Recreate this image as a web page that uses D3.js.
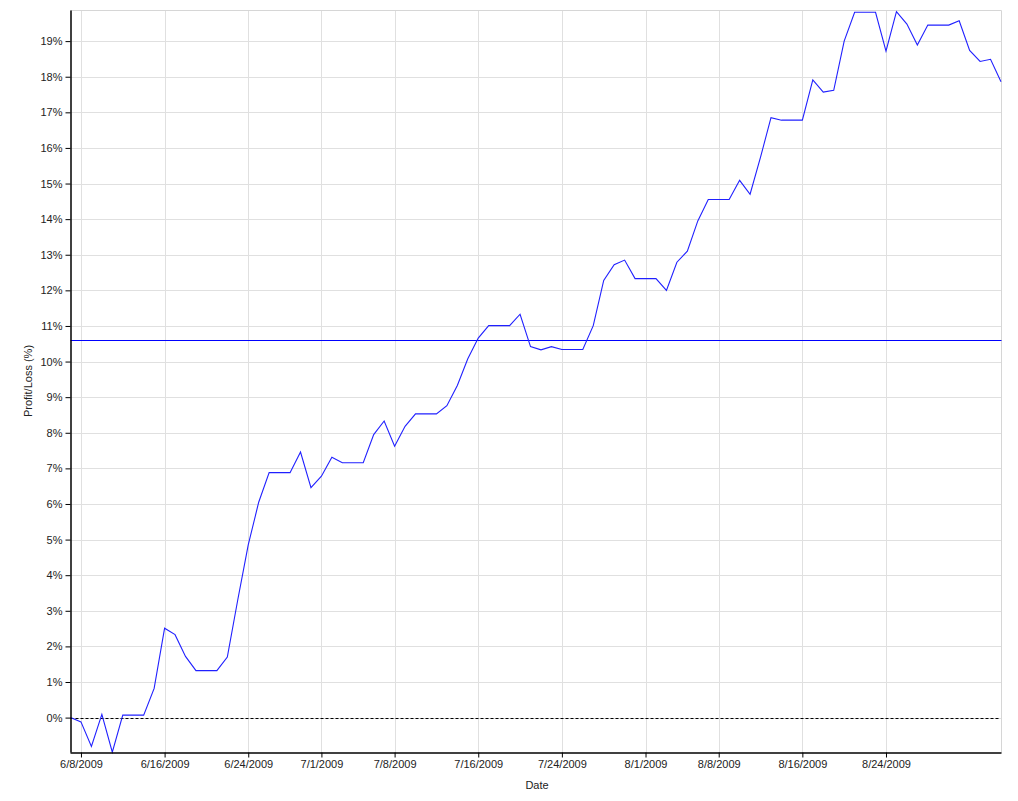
<!DOCTYPE html>
<html>
<head>
<meta charset="utf-8">
<script src="https://cdn.jsdelivr.net/npm/d3@7"></script>
<style>
  body { margin: 0; background: #fff; }
  text { font-family: "Liberation Sans", Arial, sans-serif; }
</style>
</head>
<body>
<svg id="chart" width="1018" height="801"></svg>
<script>
// daily profit/loss (%) from 6/7/2009 to 9/4/2009, one value per day
var startDate = Date.UTC(2009, 5, 7);
var pnl = [
  0.00, -0.12, -0.81, 0.09, -0.97, 0.07, 0.07, 0.07, 0.82, 2.51,
  2.33, 1.72, 1.32, 1.32, 1.32, 1.70, 3.31, 4.85, 6.05, 6.88,
  6.88, 6.88, 7.46, 6.46, 6.78, 7.31, 7.16, 7.16, 7.16, 7.95,
  8.33, 7.62, 8.18, 8.53, 8.53, 8.53, 8.76, 9.33, 10.08, 10.66,
  11.01, 11.01, 11.01, 11.33, 10.42, 10.33, 10.42, 10.34, 10.34, 10.34,
  11.01, 12.28, 12.72, 12.85, 12.33, 12.33, 12.33, 12.00, 12.79, 13.10,
  13.95, 14.55, 14.55, 14.55, 15.09, 14.70, 15.74, 16.85, 16.78, 16.78,
  16.78, 17.91, 17.57, 17.62, 19.00, 19.81, 19.81, 19.81, 18.72, 19.83,
  19.48, 18.89, 19.45, 19.45, 19.45, 19.57, 18.74, 18.43, 18.49, 17.86
];
var refLevel = 10.6;   // the solid blue horizontal line
var yTicks = d3.range(0, 20);
var xTickDates = ["2009-06-08", "2009-06-16", "2009-06-24", "2009-07-01", "2009-07-08",
                  "2009-07-16", "2009-07-24", "2009-08-01", "2009-08-08", "2009-08-16", "2009-08-24"];

var data = pnl.map(function (v, i) {
  return { date: new Date(startDate + i * 864e5), value: v };
});

// plot box (window.top is read-only, so no "top" here)
var pLeft = 70.5, pRight = 1001.5, pTop = 10.5, pBottom = 752.5;
var svg = d3.select("#chart");

var x = d3.scaleUtc()
  .domain(d3.extent(data, function (d) { return d.date; }))
  .range([pLeft, pRight - 0.5]);
var y = d3.scaleLinear()
  .domain([-0.98, 19.86])
  .range([pBottom, pTop]);

var tickDates = xTickDates.map(function (s) { return new Date(s + "T00:00:00Z"); });
var fmt = function (d) { return (d.getUTCMonth() + 1) + "/" + d.getUTCDate() + "/" + d.getUTCFullYear(); };

// grid
var grid = svg.append("g");
grid.selectAll(".gy").data(yTicks).enter().append("line")
  .attr("x1", pLeft).attr("x2", pRight)
  .attr("y1", function (d) { return Math.round(y(d)) + 0.5; })
  .attr("y2", function (d) { return Math.round(y(d)) + 0.5; })
  .attr("stroke", "#e0e0e0");
grid.selectAll(".gx").data(tickDates).enter().append("line")
  .attr("y1", pTop).attr("y2", pBottom)
  .attr("x1", function (d) { return Math.round(x(d)) + 0.5; })
  .attr("x2", function (d) { return Math.round(x(d)) + 0.5; })
  .attr("stroke", "#e0e0e0");

// light frame top/right
svg.append("path")
  .attr("d", "M" + pLeft + "," + pTop + "H" + pRight + "V" + pBottom)
  .attr("fill", "none").attr("stroke", "#d6d6d6");

// zero line
svg.append("line")
  .attr("x1", pLeft).attr("x2", pRight - 1)
  .attr("y1", Math.round(y(0)) + 0.5).attr("y2", Math.round(y(0)) + 0.5)
  .attr("stroke", "#000").attr("stroke-dasharray", "3,2");

// reference level
svg.append("line")
  .attr("x1", pLeft).attr("x2", pRight)
  .attr("y1", Math.round(y(refLevel)) + 0.5).attr("y2", Math.round(y(refLevel)) + 0.5)
  .attr("stroke", "#0000ff");

// series
svg.append("path")
  .datum(data)
  .attr("fill", "none")
  .attr("stroke", "#2020ff")
  .attr("stroke-width", 1.1)
  .attr("d", d3.line()
    .x(function (d) { return x(d.date); })
    .y(function (d) { return y(d.value); }));

// axes
var yAxis = svg.append("g")
  .attr("transform", "translate(" + pLeft + ",0)")
  .call(d3.axisLeft(y).tickValues(yTicks).tickSize(5).tickPadding(3)
    .tickFormat(function (d) { return d + "%"; }));
yAxis.select(".domain").attr("d", "M0.5," + pTop + "V" + pBottom).attr("stroke", "#000").attr("stroke-width", 1.5);

var xAxis = svg.append("g")
  .attr("transform", "translate(0," + pBottom + ")")
  .call(d3.axisBottom(x).tickValues(tickDates).tickSize(5).tickPadding(3).tickFormat(fmt));
xAxis.select(".domain").attr("d", "M" + pLeft + ",0.5H" + pRight).attr("stroke", "#000").attr("stroke-width", 1.5);

svg.selectAll(".tick text").attr("font-size", 11).attr("fill", "#222")
  .attr("font-family", "'Liberation Sans', Arial, sans-serif");

svg.append("text")
  .attr("x", 537).attr("y", 789)
  .attr("text-anchor", "middle").attr("font-size", 11).attr("fill", "#222")
  .text("Date");
svg.append("text")
  .attr("transform", "translate(32,381) rotate(-90)")
  .attr("text-anchor", "middle").attr("font-size", 11).attr("fill", "#222")
  .text("Profit/Loss (%)");
</script>
</body>
</html>
